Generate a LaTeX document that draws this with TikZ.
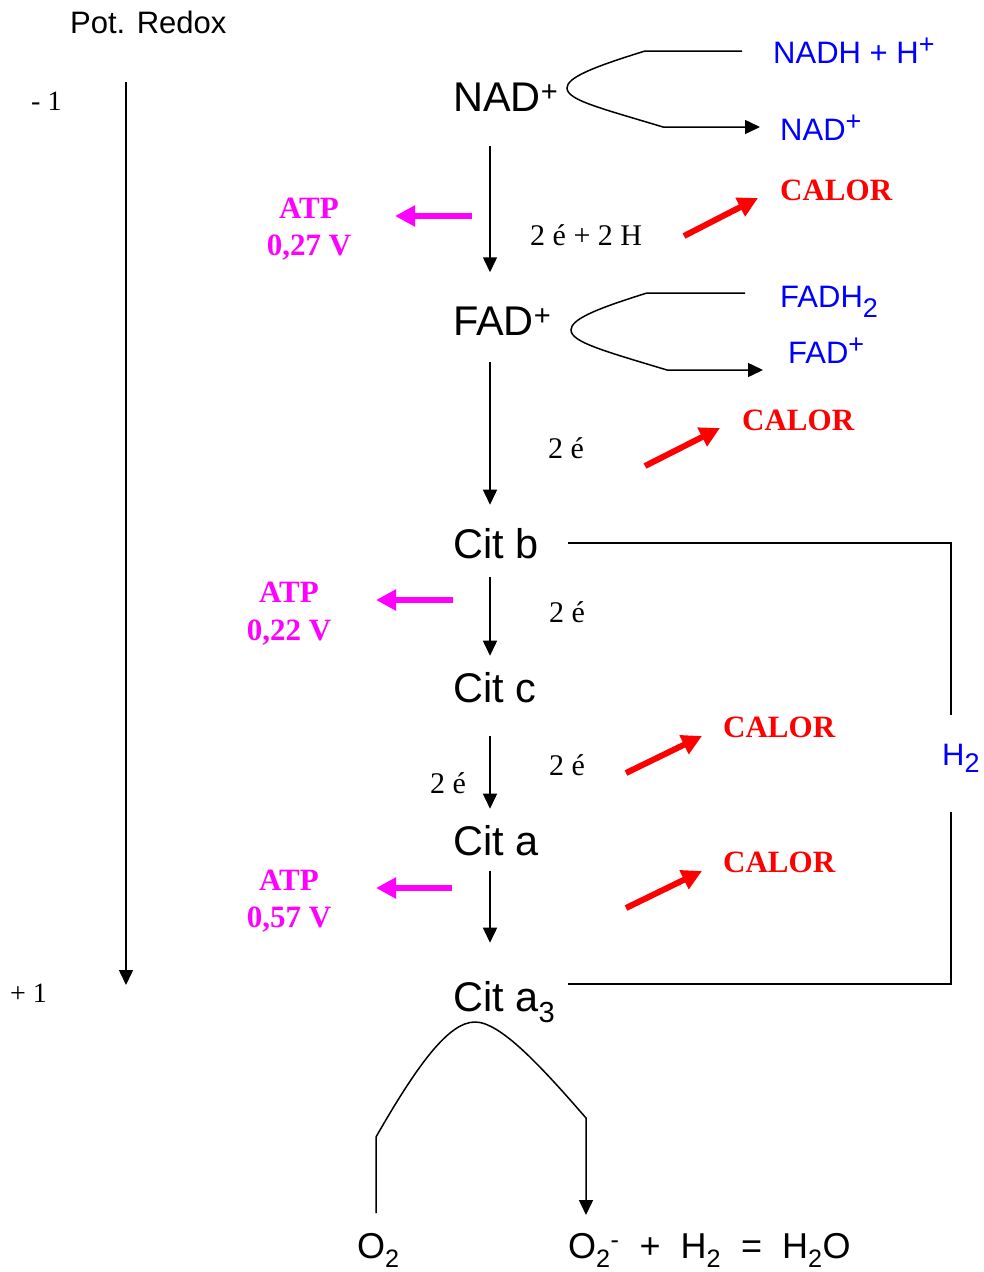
\documentclass[tikz,border=0pt]{standalone}
\usepackage{fontspec}
\setmainfont{Liberation Serif}
\newfontfamily\arial{Liberation Sans}
\usetikzlibrary{arrows.meta}
\definecolor{mag}{RGB}{255,0,255}
\definecolor{blu}{RGB}{0,0,255}
\definecolor{rd}{RGB}{255,0,0}
\newcommand\bsup{\raisebox{10pt}{\fontsize{27}{28}\selectfont+}}
\newcommand\bsub[2][10pt]{\raisebox{-#1}{\fontsize{27}{28}\selectfont #2}}
\tikzset{
 big/.style={font=\arial\fontsize{41.5}{44}\selectfont, inner sep=0pt, anchor=base west},
 bluelbl/.style={font=\arial\fontsize{31}{34}\selectfont, text=blu, inner sep=0pt, anchor=base west},
 sanslbl/.style={font=\arial\fontsize{31}{34}\selectfont, inner sep=0pt, anchor=base west},
 eqlbl/.style={font=\arial\fontsize{36}{40}\selectfont, inner sep=0pt, anchor=base west},
 ser/.style={font=\fontsize{30}{32}\selectfont, inner sep=0pt, anchor=base west},
 calor/.style={font=\bfseries\fontsize{31}{34}\selectfont, text=rd, inner sep=0pt, anchor=base west},
 atp/.style={font=\bfseries\fontsize{31}{34}\selectfont, text=mag, inner sep=0pt, anchor=base},
 blk/.style={line width=1.5pt, -{Triangle[length=15pt,width=14pt]}},
 ln/.style={line width=1.5pt},
 heat/.style={line width=6pt, draw=rd, -{Triangle[length=20pt,width=20pt]}},
 atparrow/.style={line width=6pt, draw=mag, -{Triangle[length=20pt,width=20pt]}},
}
\begin{document}
\begin{tikzpicture}[x=1pt,y=-1pt]
\useasboundingbox (0,0) rectangle (983,1272);

% axis
\node[sanslbl] (pot) at (70,33) {Pot. Redox};
\node[ser, font=\fontsize{28}{30}\selectfont] (m1) at (31,110) {- 1};
\node[ser, font=\fontsize{28}{30}\selectfont] (p1) at (10,1002) {+ 1};
\coordinate (axtop) at (126,82);
\coordinate (axbot) at (126,985);
\draw[blk] (axtop) -- (axbot);

% main chain
\node[big] (nad) at (453,111) {NAD\textsuperscript{+}};
\node[big] (fad) at (453,335) {FAD\textsuperscript{+}};
\node[big] (cb) at (453,558) {Cit b};
\node[big] (cc) at (453,702) {Cit c};
\node[big] (ca) at (453,855) {Cit a};
\node[big] (ca3) at (453,1011) {Cit a\textsubscript{3}};
\coordinate (cx) at (490,0);

\draw[blk, shorten <=35pt, shorten >=34pt] (nad.south -| cx) -- (fad.north -| cx);
\draw[blk, shorten <=27pt, shorten >=23pt] (fad.south -| cx) -- (cb.north -| cx);
\draw[blk, shorten <=18pt, shorten >=16pt] (cb.south -| cx) -- (cc.north -| cx);
\draw[blk, shorten <=33pt, shorten >=16pt] (cc.south -| cx) -- (ca.north -| cx);
\draw[blk, shorten <=15pt, shorten >=38pt] (ca.south -| cx) -- (ca3.north -| cx);

% NAD branch
\node[bluelbl] (nadh) at (773,63) {NADH + H\bsup};
\node[bluelbl] (nadb) at (780,140) {NAD\bsup};
\coordinate (n1) at (742,51);
\coordinate (n2) at (760,127);
\draw[blk] (n1) -- (645,51) .. controls (590,68) and (567,78) .. (567,88)
  .. controls (567,100) and (600,108) .. (663,127) -- (n2);

% FAD branch
\node[bluelbl] (fadh) at (780,307) {FADH\bsub{2}};
\node[bluelbl] (fadb) at (788,363) {FAD\bsup};
\coordinate (f1) at (745,293);
\coordinate (f2) at (763,370);
\draw[blk] (f1) -- (647,293) .. controls (592,310) and (571,320) .. (571,330)
  .. controls (571,342) and (604,351) .. (667,370) -- (f2);

% electron labels
\node[ser] (e1) at (530,245) {2 é + 2 H};
\node[ser] (e2) at (548,458) {2 é};
\node[ser] (e3) at (549,622) {2 é};
\node[ser] (e4) at (549,775) {2 é};
\node[ser] (e5) at (430,793) {2 é};

% heat
\node[calor] (c1) at (780,200) {CALOR};
\node[calor] (c2) at (742,430) {CALOR};
\node[calor] (c3) at (723,737) {CALOR};
\node[calor] (c4) at (723,872) {CALOR};
\draw[heat] (684,236) coordinate (h1s) -- (758,198) coordinate (h1e);
\draw[heat] (645,466) coordinate (h2s) -- (720,428) coordinate (h2e);
\draw[heat] (626,773) coordinate (h3s) -- (702,736) coordinate (h3e);
\draw[heat] (626,908) coordinate (h4s) -- (702,871) coordinate (h4e);

% ATP
\node[atp] (atp1) at (309,218) {ATP};
\node[atp] (v1) at (309,255) {0,27 V};
\node[atp] (atp2) at (289,602) {ATP};
\node[atp] (v2) at (289,640) {0,22 V};
\node[atp] (atp3) at (289,890) {ATP};
\node[atp] (v3) at (289,927) {0,57 V};
\draw[atparrow] (472,216) coordinate (a1s) -- (395,216) coordinate (a1e);
\draw[atparrow] (453,600) coordinate (a2s) -- (376,600) coordinate (a2e);
\draw[atparrow] (452,888) coordinate (a3s) -- (376,888) coordinate (a3e);

% H2 bracket
\node[bluelbl] (h2) at (942,765) {H\bsub[7pt]{2}};
\coordinate (b1) at (568,543);
\coordinate (b2) at (951,543);
\coordinate (b3) at (951,715);
\coordinate (b4) at (951,812);
\coordinate (b5) at (951,984);
\coordinate (b6) at (568,984);
\draw[ln] (b1) -- (b2) -- (b3);
\draw[ln] (b4) -- (b5) -- (b6);

% bottom
\node[eqlbl] (o2) at (357,1258) {O\textsubscript{2}};
\node[eqlbl] (eq) at (568,1258) {O\textsubscript{2}\textsuperscript{-}\ \ +\ \ H\textsubscript{2}\ \ =\ \ H\textsubscript{2}O};
\coordinate (o2top) at (376,1213);
\coordinate (eqtop) at (586,1215);
\draw[blk] (o2top) -- (376,1137) .. controls (420,1060) and (450,1022) .. (475,1022)
  .. controls (500,1022) and (540,1065) .. (586,1118) -- (eqtop);
\end{tikzpicture}
\end{document}
